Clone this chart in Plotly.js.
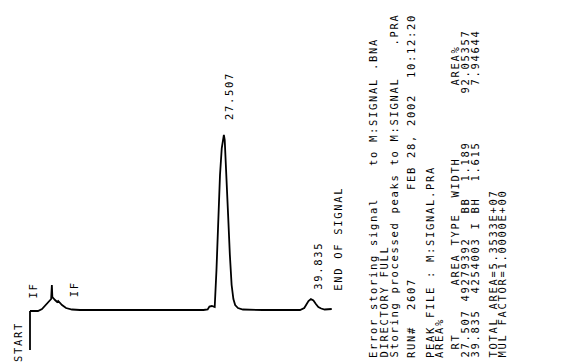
<!DOCTYPE html>
<html>
<head>
<meta charset="utf-8">
<script src="https://cdn.plot.ly/plotly-3.0.1.min.js"></script>
<style>
  html, body { margin: 0; padding: 0; background: #fff; }
  #chart { width: 578px; height: 362px; }
</style>
</head>
<body>
<div id="chart"></div>
<script>
// ---- Chromatogram data (retention time in minutes, detector signal in arbitrary units) ----
const times = [0, 1.13, 1.7, 2.27, 2.84, 3.0, 3.1, 3.17, 3.55, 3.85, 4.0, 4.54, 5.11, 5.96, 7.09,
  12.8, 18.4, 24.6, 25.2, 25.45, 25.8, 26.1, 26.2, 26.45, 26.7, 26.95, 27.2, 27.4, 27.5, 27.62,
  27.85, 28.1, 28.35, 28.6, 28.85, 29.1, 29.5, 30.2, 33.0, 38.3, 38.9, 39.2, 39.5, 39.84, 40.2,
  40.55, 40.9, 41.3, 41.8, 42.8];
const signal = [-1, -1, 1, 5, 9, 11, 25, 13, 10, 8, 9, 5, 2, 0.5, 0,
  0, -0.5, 0, 0.5, 3.5, 4, 3.5, 3, 40, 90, 135, 162, 173, 175, 170,
  140, 95, 55, 25, 11, 5, 2, 0.5, 0, 0, 2, 5, 9, 11, 9.5,
  6, 3, 1.5, 0.5, 1];

// START marker (vertical tick at injection)
const startTime = [0, 0];
const startSignal = [-1, -40];

// Integrator events and peaks
const eventTimes = [0.3, 6.2];
const eventLabels = ["IF", "IF"];
const peakRT = [27.507, 39.835];
const peakLabels = ["27.507", "39.835"];
const endTime = 42.8;

// ---- Integrator report text ----
const S = "\u00A0";
function sp(n) { return S.repeat(n); }
const reportLines = [
  "Error" + S + "storing" + S + "signal" + sp(4) + "to" + S + "M:SIGNAL" + S + ".BNA",
  "DIRECTORY" + S + "FULL",
  "Storing" + S + "processed" + S + "peaks" + S + "to" + S + "M:SIGNAL" + sp(4) + ".PRA",
  "RUN#" + sp(2) + "2607" + sp(11) + "FEB" + S + "28," + S + "2002" + sp(2) + "10:12:20",
  "PEAK" + S + "FILE" + S + ":" + S + "M:SIGNAL.PRA",
  "AREA%",
  sp(1) + "RT" + sp(6) + "AREA" + S + "TYPE" + sp(2) + "WIDTH" + sp(9) + "AREA%",
  "27.507" + S + "49279392" + sp(3) + "BB" + sp(2) + "1.189" + sp(6) + "92.05357",
  "39.835" + sp(2) + "4254003" + S + "I" + S + "BH" + sp(2) + "1.615" + sp(7) + "7.94644",
  "TOTAL" + S + "AREA=5.3533E+07",
  "MUL" + S + "FACTOR=1.0000E+00"
];
// layout: x pixel centre of each printed line
const reportLineX = [373, 383, 393, 411, 430, 439, 454, 464, 474, 492, 501];

// ---- Geometry ----
const W = 578, H = 362;
const pxPerMin = 7.05, x0px = 30;     // START at 30px
const basePx = 310;                   // baseline row in pixels
const xRange = [(0 - x0px) / pxPerMin, (W - x0px) / pxPerMin];
const yRange = [basePx - H, basePx];

const FONT = "DejaVu Sans Mono, Liberation Mono, monospace";
const fsz = 10.5;
const pitch = 8;                       // printer character pitch in px
const letterSpace = pitch - 0.602 * fsz;
const textFont = { family: FONT, size: fsz, color: "#000" };

const annotations = [];
function addPx(text, cx, bottomPx) {
  annotations.push({
    xref: "paper", yref: "paper",
    x: cx / W, y: 1 - bottomPx / H,
    xanchor: "center", yanchor: "bottom", align: "left",
    text: text, textangle: -90, showarrow: false,
    font: textFont, borderpad: 0
  });
}
function addData(text, t, dxPx, bottomPx) {
  annotations.push({
    xref: "x", yref: "paper",
    x: t, xshift: dxPx, y: 1 - bottomPx / H,
    xanchor: "center", yanchor: "bottom", align: "left",
    text: text, textangle: -90, showarrow: false,
    font: textFont, borderpad: 0
  });
}

addData("START", startTime[0], -12, 363);
addData(eventLabels[0], eventTimes[0], 0, 300);
addData(eventLabels[1], eventTimes[1], 0, 298);
addData(peakLabels[0], peakRT[0], 5, 121);
addData(peakLabels[1], peakRT[1], 7, 291);
addData("END" + S + "OF" + S + "SIGNAL", endTime, 6, 292);

reportLines.forEach((ln, i) => addPx(ln, reportLineX[i], 359));

const traces = [
  { x: times, y: signal, mode: "lines", line: { color: "#000", width: 1.8 }, hoverinfo: "skip" },
  { x: startTime, y: startSignal, mode: "lines", line: { color: "#000", width: 1.8 }, hoverinfo: "skip" }
];

const layout = {
  width: W, height: H,
  margin: { l: 0, r: 0, t: 0, b: 0, pad: 0 },
  paper_bgcolor: "#fff", plot_bgcolor: "#fff",
  showlegend: false,
  xaxis: { range: xRange, visible: false, fixedrange: true },
  yaxis: { range: yRange, visible: false, fixedrange: true },
  annotations: annotations
};

function spaceOut() {
  document.querySelectorAll("#chart .annotation-text").forEach(function (el) {
    el.style.letterSpacing = letterSpace + "px";
  });
}

const gd = document.getElementById("chart");
Plotly.newPlot(gd, traces, layout, { staticPlot: true, displayModeBar: false }).then(function () {
  spaceOut();
  gd.on("plotly_afterplot", spaceOut);
});
</script>
</body>
</html>
